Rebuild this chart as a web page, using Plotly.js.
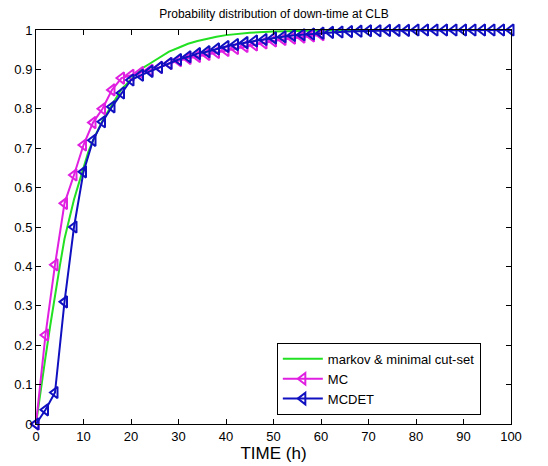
<!DOCTYPE html>
<html>
<head>
<meta charset="utf-8">
<script src="https://cdn.plot.ly/plotly-3.0.1.min.js"></script>
<style>html,body{margin:0;padding:0;background:#fff;}#chart{width:548px;height:466px;}</style>
</head>
<body>
<div id="chart"></div>
<script>
// Markov & minimal cut-set curve
const markovT = [0,1,2,3,4,5,6,7,8,9,10,11,12,13,14,15,16,17,18,19,20,22,24,26,28,30,32,34,36,38,40,42,45,50,55,60,70,80,90,100];
const markovP = [0,0.09,0.17,0.25,0.33,0.40,0.47,0.52,0.57,0.61,0.65,0.69,0.72,0.745,0.77,0.79,0.81,0.83,0.85,0.862,0.875,0.90,0.915,0.93,0.945,0.955,0.965,0.972,0.978,0.983,0.987,0.99,0.993,0.996,0.998,0.999,1,1,1,1];

// MC (every 2 h, 0..60)
const mcT = [0,2,4,6,8,10,12,14,16,18,20,22,24,26,28,30,32,34,36,38,40,42,44,46,48,50,52,54,56,58,60];
const mcP = [0,0.226,0.404,0.56,0.632,0.708,0.765,0.80,0.848,0.878,0.885,0.892,0.898,0.905,0.915,0.922,0.928,0.933,0.938,0.943,0.948,0.953,0.958,0.962,0.967,0.972,0.976,0.979,0.982,0.985,0.988];

// MCDET (every 2 h, 0..100)
const mcdetT = [0,2,4,6,8,10,12,14,16,18,20,22,24,26,28,30,32,34,36,38,40,42,44,46,48,50,52,54,56,58,60,62,64,66,68,70,72,74,76,78,80,82,84,86,88,90,92,94,96,98,100];
const mcdetP = [0,0.036,0.08,0.31,0.50,0.64,0.72,0.767,0.805,0.84,0.873,0.885,0.895,0.905,0.915,0.925,0.932,0.94,0.945,0.952,0.958,0.963,0.968,0.972,0.976,0.98,0.983,0.986,0.988,0.99,0.992,0.994,0.995,0.996,0.997,0.998,0.998,0.999,0.999,0.999,1,1,1,1,1,1,1,1,1,1,1];

const xTicks = [0,10,20,30,40,50,60,70,80,90,100];
const yTicks = [0,0.1,0.2,0.3,0.4,0.5,0.6,0.7,0.8,0.9,1];
const yTickText = ['0','0.1','0.2','0.3','0.4','0.5','0.6','0.7','0.8','0.9','1'];

const traces = [
  {x: markovT, y: markovP, mode: 'lines', name: 'markov &amp; minimal cut-set',
   line: {color: '#22e022', width: 2}, cliponaxis: false},
  {x: mcT, y: mcP, mode: 'lines+markers', name: 'MC',
   line: {color: '#e020e0', width: 2},
   marker: {symbol: 'triangle-left-open', size: 10, color: '#e020e0', line: {width: 2, color: '#e020e0'}},
   cliponaxis: false},
  {x: mcdetT, y: mcdetP, mode: 'lines+markers', name: 'MCDET',
   line: {color: '#1010c0', width: 2},
   marker: {symbol: 'triangle-left-open', size: 10, color: '#1010c0', line: {width: 2, color: '#1010c0'}},
   cliponaxis: false}
];

const axisCommon = {
  showgrid: false, zeroline: false, showline: true, linecolor: '#000', linewidth: 1,
  mirror: 'ticks', ticks: 'inside', ticklen: 5, tickcolor: '#000',
  tickfont: {family: 'Liberation Sans, Arial, sans-serif', size: 13, color: '#000'}
};

const layout = {
  width: 548, height: 466,
  margin: {l: 36, r: 37, t: 30, b: 42},
  paper_bgcolor: '#fff', plot_bgcolor: '#fff',
  title: {text: 'Probability distribution of down-time at CLB', x: 0.5, xanchor: 'center', y: 0.97, yanchor: 'middle',
          font: {family: 'Liberation Sans, Arial, sans-serif', size: 12, color: '#000'}},
  xaxis: Object.assign({}, axisCommon, {range: [0, 100], tickvals: xTicks, ticktext: xTicks.map(String),
          title: {text: 'TIME (h)', standoff: 0, font: {family: 'Liberation Sans, Arial, sans-serif', size: 17, color: '#000'}}}),
  yaxis: Object.assign({}, axisCommon, {range: [0, 1], tickvals: yTicks, ticktext: yTickText}),
  showlegend: true,
  legend: {x: 0.507, y: 0.206, xanchor: 'left', yanchor: 'top', bgcolor: '#fff', bordercolor: '#000', borderwidth: 1,
           font: {family: 'Liberation Sans, Arial, sans-serif', size: 13, color: '#000'},
           tracegroupgap: 0, itemwidth: 40}
};

Plotly.newPlot('chart', traces, layout, {displayModeBar: false, staticPlot: true});
</script>
</body>
</html>
